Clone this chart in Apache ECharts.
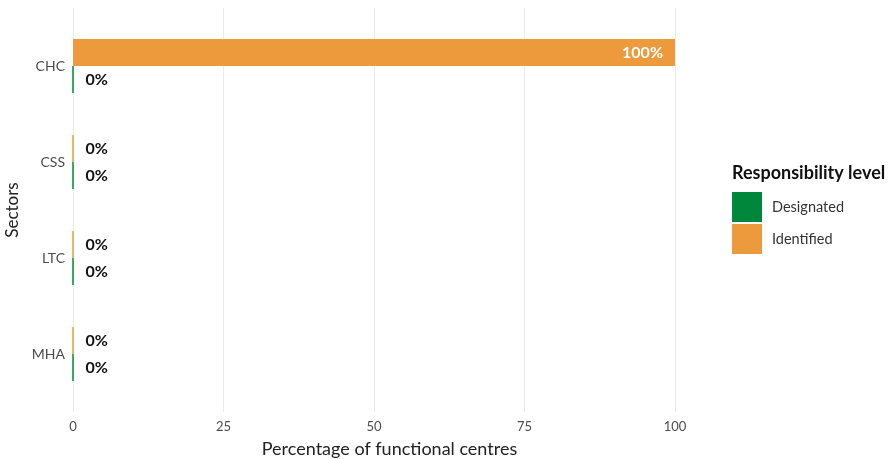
<!DOCTYPE html>
<html><head><meta charset="utf-8">
<script src="https://cdn.jsdelivr.net/npm/echarts@6/dist/echarts.min.js"></script>
<style>html,body{margin:0;padding:0;background:#fff}#c{width:890px;height:459px}</style>
</head><body><div id="c"></div>
<script>
const categories = ['CHC', 'CSS', 'LTC', 'MHA'];
const identified = [100, 0, 0, 0];
const designated = [0, 0, 0, 0];
const xTicks = [0, 25, 50, 75, 100];

const FONT = 'Lato';
const ORANGE = '#EC9A3B', GREEN = '#00873C';
function mkData(vals, color) {
  return vals.map(v => ({
    value: v,
    itemStyle: {color: color, borderColor: color, borderWidth: v === 0 ? 1 : 0},
    label: v > 50
      ? {position: 'insideRight', distance: 12, color: '#ffffff'}
      : {position: 'right', distance: 12, color: '#111111'}
  }));
}
const chart = echarts.init(document.getElementById('c'));
chart.setOption({
  animation: false,
  textStyle: {fontFamily: FONT},
  title: {text: 'Responsibility level', left: 732, top: 164, padding: 0,
    textStyle: {fontFamily: FONT, fontWeight: 'bold', fontSize: 18, color: '#111'}},
  legend: {orient: 'vertical', left: 732, top: 192, padding: 0, itemWidth: 30, itemHeight: 30, itemGap: 2,
    icon: 'rect', data: ['Designated', 'Identified'],
    textStyle: {fontFamily: FONT, fontSize: 14.5, color: '#333', padding: [0, 0, 0, 5]}},
  grid: [
    {left: 73, right: 215, top: 18, bottom: 57, outerBoundsMode: 'none', containLabel: false},
    {left: 73, right: 215, top: 8, bottom: 47, outerBoundsMode: 'none', containLabel: false}
  ],
  xAxis: [
    {gridIndex: 0, type: 'value', min: 0, max: 100, interval: 25, show: false},
    {gridIndex: 1, type: 'value', min: xTicks[0], max: xTicks[xTicks.length-1], interval: 25,
      axisLine: {show: false}, axisTick: {show: false},
      splitLine: {show: true, lineStyle: {color: '#ebebeb', width: 1}},
      axisLabel: {fontFamily: FONT, fontSize: 13, color: '#4d4d4d', margin: 8},
      name: 'Percentage of functional centres', nameLocation: 'middle', nameGap: 28,
      nameTextStyle: {fontFamily: FONT, fontSize: 18, color: '#222', padding: [0, 0, 0, 31]}}
  ],
  yAxis: [
    {gridIndex: 0, type: 'category', data: categories, inverse: true,
      axisLine: {show: false}, axisTick: {show: false}, splitLine: {show: false},
      axisLabel: {fontFamily: FONT, fontSize: 14, color: '#4d4d4d', margin: 8},
      name: 'Sectors', nameLocation: 'middle', nameGap: 50, nameRotate: 90,
      nameTextStyle: {fontFamily: FONT, fontSize: 17, color: '#222'}},
    {gridIndex: 1, type: 'value', show: false, min: 0, max: 1}
  ],
  series: [
    {name: 'Identified', type: 'bar', xAxisIndex: 0, yAxisIndex: 0, data: mkData(identified, ORANGE),
      barWidth: 27, barGap: '0%', itemStyle: {color: ORANGE},
      label: {show: true, formatter: p => p.value + '%', fontFamily: FONT, fontWeight: 'bold', fontSize: 16}},
    {name: 'Designated', type: 'bar', xAxisIndex: 0, yAxisIndex: 0, data: mkData(designated, GREEN),
      barWidth: 27, barGap: '0%', itemStyle: {color: GREEN},
      label: {show: true, formatter: p => p.value + '%', fontFamily: FONT, fontWeight: 'bold', fontSize: 16}}
  ]
});
</script></body></html>
